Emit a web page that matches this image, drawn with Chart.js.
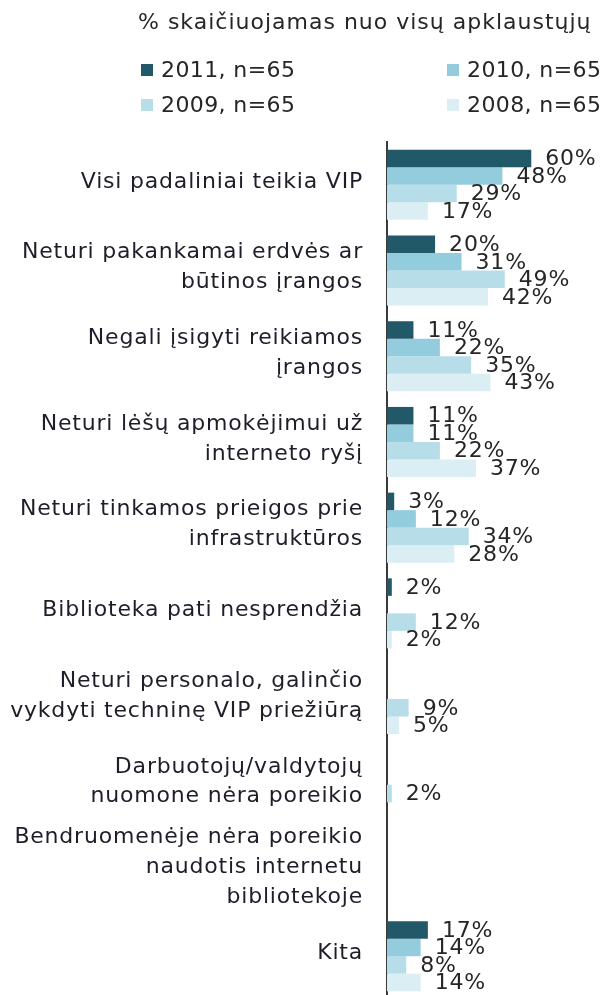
<!DOCTYPE html>
<html>
<head>
<meta charset="utf-8">
<script src="https://cdn.jsdelivr.net/npm/chart.js@4.4.1/dist/chart.umd.min.js"></script>
<style>
  body { margin: 0; background: #fff; overflow: hidden; }
  #wrap { position: relative; width: 601px; height: 999px; }
  #title { position: absolute; left: 138px; top: 9px; font: 22px "DejaVu Sans", sans-serif; letter-spacing: 1px; color: #262626; white-space: nowrap; }
  .leg { position: absolute; font: 22px "DejaVu Sans", sans-serif; letter-spacing: 0.4px; color: #262626; white-space: nowrap; line-height: 24px; }
  .leg i { display: inline-block; width: 12px; height: 12px; margin-right: 8px; vertical-align: 1px; }
</style>
</head>
<body>
<div id="wrap">
  <div id="title">% skaičiuojamas nuo visų apklaustųjų</div>
  <div id="legend"></div>
  <canvas id="chart"></canvas>
</div>
<script>
// Categories (multi-line labels)
const categories = [
  ['Visi padaliniai teikia VIP'],
  ['Neturi pakankamai erdvės ar', 'būtinos įrangos'],
  ['Negali įsigyti reikiamos', 'įrangos'],
  ['Neturi lėšų apmokėjimui už', 'interneto ryšį'],
  ['Neturi tinkamos prieigos prie', 'infrastruktūros'],
  ['Biblioteka pati nesprendžia'],
  ['Neturi personalo, galinčio', 'vykdyti techninę VIP priežiūrą'],
  ['Darbuotojų/valdytojų', 'nuomone nėra poreikio'],
  ['Bendruomenėje nėra poreikio', 'naudotis internetu', 'bibliotekoje'],
  ['Kita']
];

// Series values (%)
const seriesNames = ['2011, n=65', '2010, n=65', '2009, n=65', '2008, n=65'];
const values2011 = [60, 20, 11, 11, 3, 2, 0, 0, 0, 17];
const values2010 = [48, 31, 22, 11, 12, 0, 0, 0, 0, 14];
const values2009 = [29, 49, 35, 22, 34, 12, 9, 2, 0, 8];
const values2008 = [17, 42, 43, 37, 28, 2, 5, 0, 0, 14];
const seriesColors = ['#215968', '#93cddd', '#b7dee8', '#daeef3'];

const FONT = '"DejaVu Sans", sans-serif';

// Legend (two columns, two rows)
const legendPos = [[141, 58], [447, 58], [141, 93], [447, 93]];
const legendBox = document.getElementById('legend');
seriesNames.forEach((name, i) => {
  const el = document.createElement('div');
  el.className = 'leg';
  el.style.left = legendPos[i][0] + 'px';
  el.style.top = legendPos[i][1] + 'px';
  el.innerHTML = '<i style="background:' + seriesColors[i] + '"></i>' + name;
  legendBox.appendChild(el);
});

// Slightly wider text, closer to the original face
const spacing = {
  id: 'spacing',
  beforeDraw(chart) { chart.ctx.letterSpacing = '0.8px'; }
};

// Value labels next to bar ends
const valueLabels = {
  id: 'valueLabels',
  afterDatasetsDraw(chart) {
    const ctx = chart.ctx;
    ctx.save();
    ctx.font = '22px ' + FONT;
    ctx.fillStyle = '#262626';
    ctx.textBaseline = 'middle';
    ctx.textAlign = 'left';
    chart.data.datasets.forEach((ds, i) => {
      const meta = chart.getDatasetMeta(i);
      meta.data.forEach((bar, j) => {
        const v = ds.data[j];
        if (!v) return;
        ctx.fillText(v + '%', bar.x + 14, bar.y + 1);
      });
    });
    ctx.restore();
  }
};

const allValues = [values2011, values2010, values2009, values2008];

new Chart(document.getElementById('chart'), {
  type: 'bar',
  data: {
    labels: categories,
    datasets: allValues.map((vals, i) => ({
      label: seriesNames[i],
      data: vals,
      backgroundColor: seriesColors[i],
      borderWidth: 0,
      barPercentage: 1,
      categoryPercentage: 0.817
    }))
  },
  options: {
    indexAxis: 'y',
    responsive: true,
    maintainAspectRatio: false,
    animation: false,
    layout: { padding: { top: 142, right: 0, bottom: 0, left: 0 } },
    scales: {
      x: {
        display: false,
        min: 0,
        max: 89
      },
      y: {
        afterFit: (scale) => {
          scale.width = 387;
          scale.paddingTop = 0;
          scale.paddingBottom = 0;
        },
        grid: { display: false, drawTicks: false },
        border: { display: true, color: '#3a3a3a', width: 2 },
        ticks: {
          autoSkip: false,
          color: '#1e1e2a',
          padding: 24,
          labelOffset: -3,
          font: { family: FONT, size: 22, lineHeight: 1.36 }
        }
      }
    },
    plugins: {
      legend: { display: false },
      tooltip: { enabled: false }
    }
  },
  plugins: [spacing, valueLabels]
});
</script>
</body>
</html>
